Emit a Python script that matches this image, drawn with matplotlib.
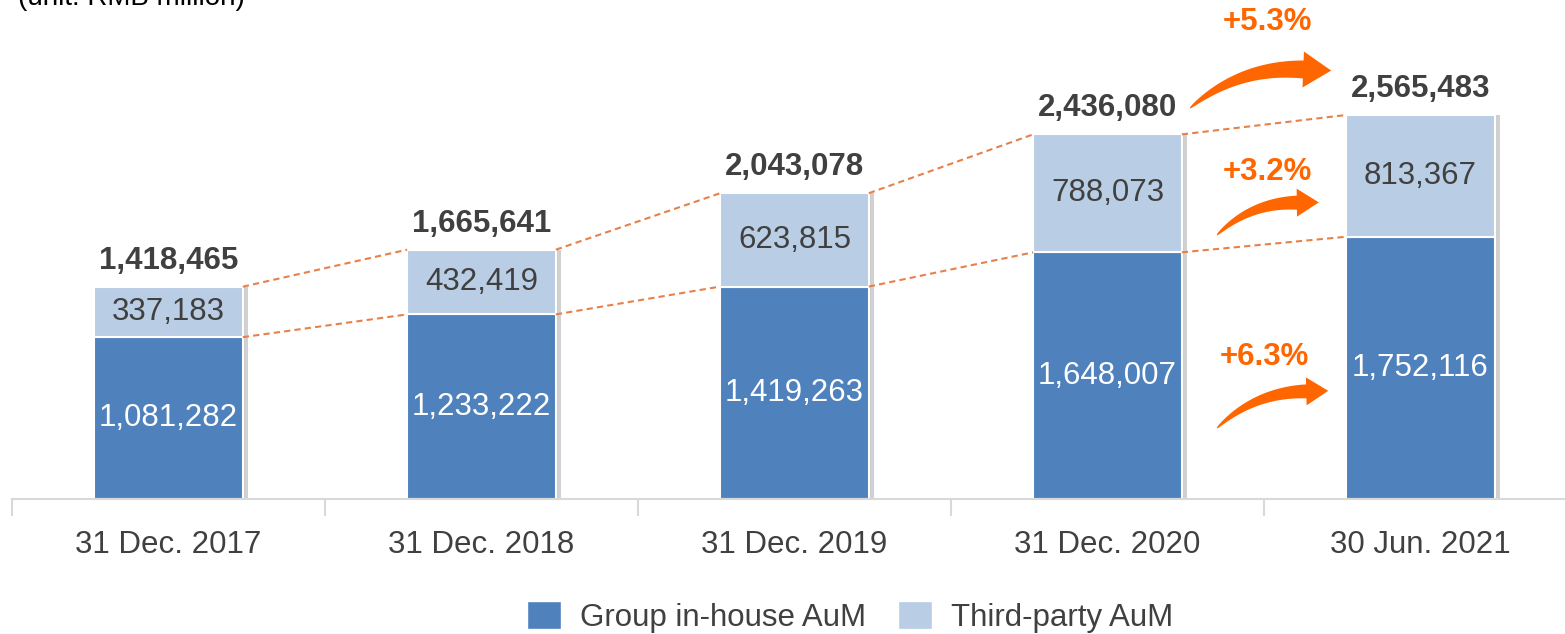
import numpy as np
import matplotlib
matplotlib.use('Agg')
import matplotlib.pyplot as plt
from matplotlib.patches import Patch, Polygon

plt.rcParams['font.family'] = ['Liberation Sans', 'DejaVu Sans']

# data (RMB million)
dates = ['31 Dec. 2017', '31 Dec. 2018', '31 Dec. 2019', '31 Dec. 2020', '30 Jun. 2021']
inhouse = [1081282, 1233222, 1419263, 1648007, 1752116]
third_party = [337183, 432419, 623815, 788073, 813367]

inhouse = np.array(inhouse)
third_party = np.array(third_party)
totals = inhouse + third_party

BLUE = '#4F81BD'
LIGHT = '#B9CDE5'
ORANGE = '#FF6600'
DASH = '#E8804A'
DARK = '#404040'

W, H = 1565, 634
fig = plt.figure(figsize=(W / 100, H / 100), dpi=100)
ax = fig.add_axes([12 / W, 1 - 499 / H, 1565 / W, 499 / H])
ax.set_xlim(-0.5, 4.5)
ax.set_ylim(0, 499 * 6681)

x = np.arange(len(dates))
bw = 0.475

# shadows
sh_dx = 5 / 313
ax.bar(x + sh_dx, totals, bw, color='#9A9A9A', alpha=0.45, zorder=1, linewidth=0)
ax.bar(x + sh_dx / 2, totals, bw, color='#C8C8C8', alpha=0.6, zorder=1, linewidth=0)

ax.bar(x, inhouse, bw, color=BLUE, edgecolor='white', linewidth=1.5, zorder=2)
ax.bar(x, third_party, bw, bottom=inhouse, color=LIGHT, edgecolor='white', linewidth=1.5, zorder=2)

for i in range(len(x)):
    ax.text(x[i], inhouse[i] / 2, f'{inhouse[i]:,}', ha='center', va='center',
            color='white', fontsize=22.5, zorder=4)
    ax.text(x[i], inhouse[i] + third_party[i] / 2, f'{third_party[i]:,}', ha='center',
            va='center', color=DARK, fontsize=22.5, zorder=4)
    ax.annotate(f'{totals[i]:,}', (x[i], totals[i]), textcoords='offset points',
                xytext=(0, 8), ha='center', va='bottom', color=DARK, fontsize=22.5,
                fontweight='bold', zorder=4)

# dashed connectors
for i in range(len(x) - 1):
    ax.plot([x[i] + bw / 2, x[i + 1] - bw / 2], [totals[i], totals[i + 1]],
            ls=(0, (3, 2)), color=DASH, lw=1.5, zorder=3)
    ax.plot([x[i] + bw / 2, x[i + 1] - bw / 2], [inhouse[i], inhouse[i + 1]],
            ls=(0, (3, 2)), color=DASH, lw=1.5, zorder=3)

# axis styling
for s in ['top', 'right', 'left']:
    ax.spines[s].set_visible(False)
ax.spines['bottom'].set_color('#D9D9D9')
ax.spines['bottom'].set_linewidth(1.5)
ax.set_yticks([])
ax.set_xticks(x)
ax.set_xticklabels(dates, fontsize=22.5, color=DARK)
ax.tick_params(axis='x', which='major', length=0, pad=22)
ax.set_xticks(np.arange(-0.5, 5, 1), minor=True)
ax.tick_params(axis='x', which='minor', length=12, color='#D9D9D9', width=1.5)

# growth labels and arrows
growth_total = (totals[-1] / totals[-2] - 1) * 100
growth_third = (third_party[-1] / third_party[-2] - 1) * 100
growth_in = (inhouse[-1] / inhouse[-2] - 1) * 100

labels = [
    (f'+{growth_total:.1f}%', 3.51, 3.187e6, (3.264, 2.612e6), (3.71, 2.93e6)),
    (f'+{growth_third:.1f}%', 3.51, 2.185e6, (3.35, 1.764e6), (3.67, 2.035e6)),
    (f'+{growth_in:.1f}%', 3.50, 0.949e6, (3.35, 0.474e6), (3.70, 0.775e6)),
]


def curved_arrow(p0, p2, head_len=26.0, head_w=17.0, body_w=8.0):
    p0 = np.array(p0, float)
    p2 = np.array(p2, float)
    d = p2 - p0
    L = np.hypot(*d)
    u = d / L
    n = np.array([-u[1], u[0]])
    base = p2 - u * head_len
    # control point bulging upward-left
    mid = (p0 + base) / 2
    c = mid + n * L * 0.16
    ts = np.linspace(0, 1, 40)
    pts = ((1 - ts) ** 2)[:, None] * p0 + (2 * (1 - ts) * ts)[:, None] * c + (ts ** 2)[:, None] * base
    tang = np.gradient(pts, axis=0)
    tang /= np.hypot(tang[:, 0], tang[:, 1])[:, None]
    nrm = np.stack([-tang[:, 1], tang[:, 0]], axis=1)
    w = 0.5 + (body_w - 0.5) * ts ** 0.7
    upper = pts + nrm * w[:, None]
    lower = pts - nrm * w[:, None]
    tb = tang[-1]
    nb = nrm[-1]
    tip = base + tb * head_len
    head = [base + nb * head_w, tip, base - nb * head_w]
    return np.vstack([upper, head, lower[::-1]])


fig.canvas.draw()
for k, (txt, tx, ty, a0, a1) in enumerate(labels):
    ax.text(tx, ty, txt, ha='center', va='center', color=ORANGE, fontsize=22.5,
            fontweight='bold', zorder=5)
    p0 = ax.transData.transform(a0)
    p1 = ax.transData.transform(a1)
    if k == 0:
        poly = curved_arrow(p0, p1, head_len=28, head_w=18, body_w=9)
    else:
        poly = curved_arrow(p0, p1, head_len=22, head_w=14, body_w=7)
    poly = fig.transFigure.inverted().transform(poly)
    fig.add_artist(Polygon(poly, closed=True, transform=fig.transFigure,
                           facecolor=ORANGE, edgecolor='none', zorder=5))

fig.text(18 / W, 1 - 5 / H, '(unit: RMB million)', ha='left', va='baseline',
         fontsize=20, color='black')

handles = [Patch(facecolor=BLUE, edgecolor='white'), Patch(facecolor=LIGHT, edgecolor='white')]
fig.legend(handles, ['Group in-house AuM', 'Third-party AuM'], loc='center',
           bbox_to_anchor=(850 / W, 1 - 617 / H), ncol=2, frameon=False, fontsize=22.5,
           handlelength=1.1, handleheight=1.0, handletextpad=0.6, columnspacing=1.0,
           labelcolor=DARK)

fig.savefig('out.png', dpi=100)
